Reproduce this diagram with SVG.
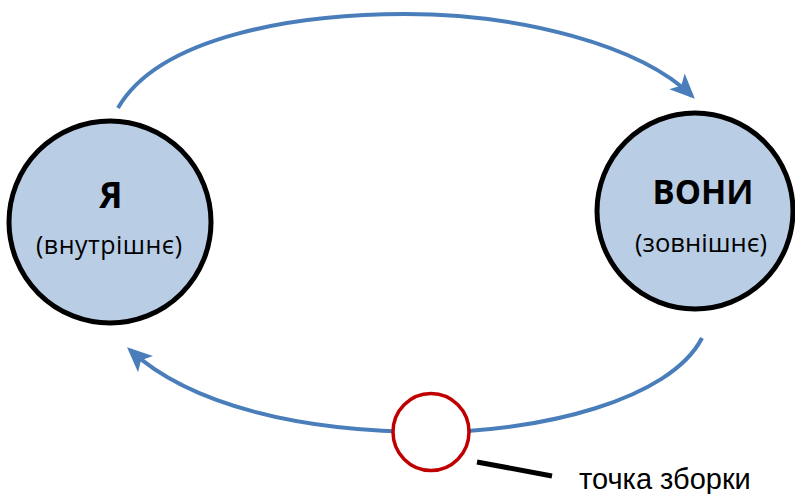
<svg xmlns="http://www.w3.org/2000/svg" width="795" height="494" viewBox="0 0 795 494">
<style>
.node{fill:#B9CDE5;stroke:#000;stroke-width:5}
.conn{fill:none;stroke:#4A7EBB;stroke-width:4}
.t{font-family:"Open Sans","Noto Sans","DejaVu Sans",sans-serif;fill:#000;text-anchor:middle}
.b{font-weight:bold}
</style>
<defs>
<marker id="ah" markerUnits="userSpaceOnUse" markerWidth="32" markerHeight="32" viewBox="-26 -13 32 26" refX="0" refY="0" orient="auto">
<path d="M4,0 L-21,-11 L-15,0 L-21,11 Z" fill="#4A7EBB"/>
</marker>
</defs>
<rect width="795" height="494" fill="#fff"/>
<g id="connectors">
<path class="conn" d="M118,108 C160,35 300,14 405,14 C520,14 640,45 692,96" marker-end="url(#ah)"/>
<path class="conn" d="M702,338 C670,400 540,432 431,432 C300,432 190,405 130,350" marker-end="url(#ah)"/>
</g>
<g id="node-ya">
<circle class="node" cx="110" cy="222" r="101"/>
<text class="t b" x="111" y="208" font-size="35">Я</text>
<text class="t" x="109" y="254" font-size="25" textLength="146" lengthAdjust="spacing">(внутрішнє)</text>
</g>
<g id="node-vony">
<circle class="node" cx="695" cy="211" r="98"/>
<text class="t b" x="703" y="204" font-size="34" textLength="101" lengthAdjust="spacingAndGlyphs">ВОНИ</text>
<text class="t" x="701" y="252" font-size="25" textLength="132" lengthAdjust="spacingAndGlyphs">(зовнішнє)</text>
</g>
<g id="assembly-point">
<ellipse cx="431" cy="432" rx="38" ry="38.5" fill="#fff" stroke="#C00000" stroke-width="3.5"/>
</g>
<g id="label">
<line x1="477" y1="462" x2="552" y2="476" stroke="#000" stroke-width="5"/>
<text x="579" y="489" font-family="Liberation Sans, Arial, sans-serif" font-size="29">точка зборки</text>
</g>
</svg>
